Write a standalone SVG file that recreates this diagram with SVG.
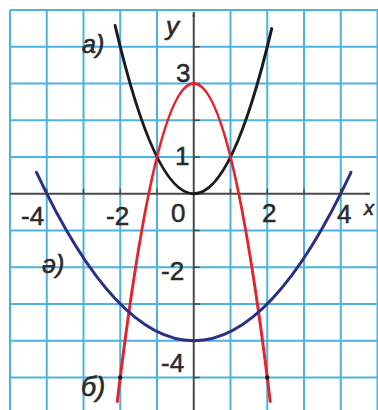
<svg xmlns="http://www.w3.org/2000/svg" width="378" height="410" viewBox="0 0 378 410">
<defs>
<style>
.grid{stroke:#4cb3e0;stroke-width:2;fill:none}
.axis{stroke:#4a4a4a;stroke-width:2;fill:none}
.tick{stroke:#4a4a4a;stroke-width:1.5}
.curve{fill:none;stroke-width:3;stroke-linecap:round}
.num{font-family:"Liberation Sans",Arial,sans-serif;font-size:26px;fill:#2a2a2a;stroke:#2a2a2a;stroke-width:0.5}
.lbl{font-family:"Liberation Sans",Arial,sans-serif;font-size:25px;font-style:italic;fill:#2a2a2a;stroke:#2a2a2a;stroke-width:0.6}
</style>
<marker id="arr" viewBox="0 0 10 10" refX="9" refY="5" markerWidth="5" markerHeight="5" orient="auto" markerUnits="userSpaceOnUse">
<path d="M0,2 L10,5 L0,8 Z" fill="#4a4a4a"/>
</marker>
</defs>
<rect width="378" height="410" fill="#ffffff"/>
<g id="grid" class="grid">
<path d="M10,10V410M46.75,10V410M83.5,10V410M120.25,10V410M157,10V410M230.5,10V410M267.25,10V410M304,10V410M340.75,10V410M377.5,10V410"/>
<path d="M10,10H378M10,46.75H378M10,83.5H378M10,120.25H378M10,157H378M10,230.5H378M10,267.25H378M10,304H378M10,340.75H378M10,377.5H378"/>
</g>
<g id="axes">
<path class="axis" d="M10,193.75H370" marker-end="url(#arr)"/>
<path class="axis" d="M193.75,410V12" marker-end="url(#arr)"/>
<path class="tick" d="M193.75,46.75h6M193.75,83.5h6M193.75,120.25h6M193.75,157h6M193.75,230.5h6M193.75,267.25h6M193.75,304h6M193.75,340.75h6M193.75,377.5h6"/>
<path class="tick" d="M46.75,193.75v-5M83.5,193.75v-5M120.25,193.75v-5M157,193.75v-5M230.5,193.75v-5M267.25,193.75v-5M304,193.75v-5M340.75,193.75v-5"/>
</g>
<g id="connectors">
<path id="curve-a" class="curve" stroke="#1b1b1b" d="M115.1,25.5 Q193.4,360.4 271.7,28.6"/>
<path id="curve-b" class="curve" stroke="#e3242b" d="M117.3,401.5 Q193.75,-234.5 270.2,401.5"/>
<path id="curve-c" class="curve" stroke="#2b2f86" d="M36.5,172.4 Q193.75,509.1 351,172.4"/>
<circle cx="120.25" cy="377.5" r="2.2" fill="#1b1b1b"/>
<circle cx="267.25" cy="377.5" r="2.2" fill="#1b1b1b"/>
</g>
<g id="labels">
<text class="lbl" x="166" y="35" style="font-size:26px">y</text>
<text class="lbl" x="364" y="215" style="font-size:20px">x</text>
<text class="lbl" x="82" y="53">а)</text>
<text class="lbl" x="42" y="273">ә)</text>
<text class="lbl" x="81" y="396" style="font-size:27px">б)</text>
<text class="num" x="176" y="82">3</text>
<text class="num" x="175" y="165">1</text>
<text class="num" x="171" y="222">0</text>
<text class="num" x="161" y="280">-2</text>
<text class="num" x="161" y="372">-4</text>
<text class="num" x="21" y="225">-4</text>
<text class="num" x="106" y="225">-2</text>
<text class="num" x="262" y="222">2</text>
<text class="num" x="337" y="223">4</text>
</g>
</svg>
